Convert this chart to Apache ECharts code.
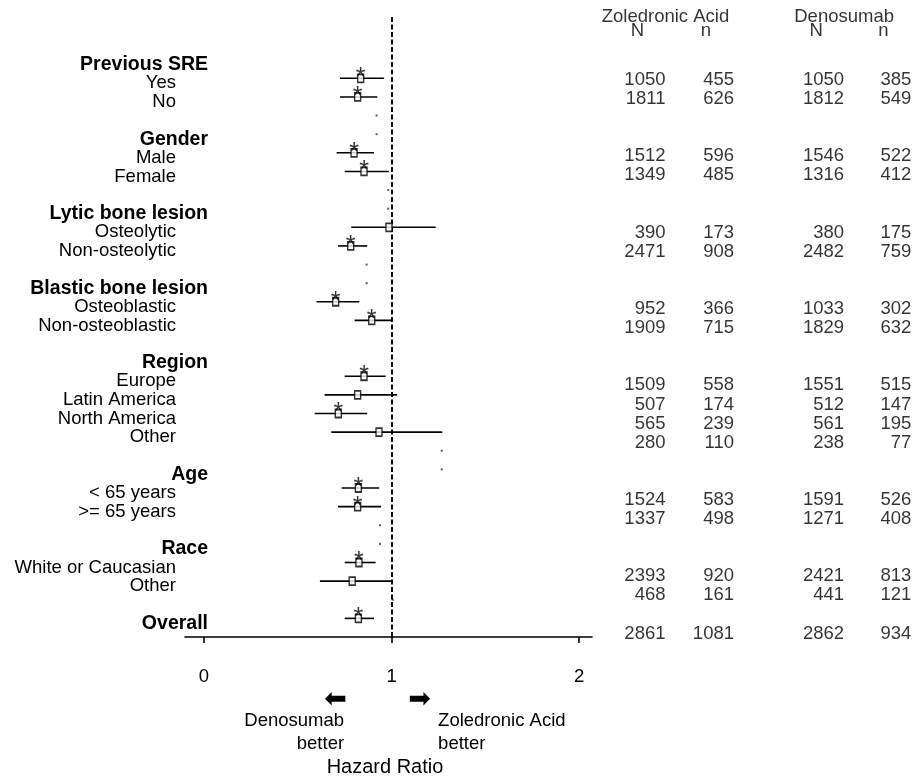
<!DOCTYPE html>
<html><head><meta charset="utf-8">
<script src="https://cdn.jsdelivr.net/npm/echarts@6/dist/echarts.min.js"></script>
<style>html,body{margin:0;padding:0;background:#fff}#c{width:917px;height:782px}</style>
</head><body><div id="c"></div>
<script>
// ---------- data ----------
const rowLabels = ['Previous SRE','Yes','No','',
  'Gender','Male','Female','',
  'Lytic bone lesion','Osteolytic','Non-osteolytic','',
  'Blastic bone lesion','Osteoblastic','Non-osteoblastic','',
  'Region','Europe','Latin America','North America','Other','',
  'Age','< 65 years','>= 65 years','',
  'Race','White or Caucasian','Other','',
  'Overall'];
const headerRows = ['Previous SRE','Gender','Lytic bone lesion','Blastic bone lesion','Region','Age','Race','Overall'];
const hazardRatio = [null,0.835,0.819,null, null,0.800,0.853,null, null,0.986,0.782,null, null,0.702,0.894,null,
  null,0.853,0.819,0.716,0.933,null, null,0.823,0.819,null, null,0.826,0.790,null, 0.823];
const ciLow  = [null,0.725,0.725,null, null,0.707,0.750,null, null,0.785,0.714,null, null,0.600,0.803,null,
  null,0.750,0.643,0.590,0.679,null, null,0.734,0.714,null, null,0.750,0.618,null, 0.750];
const ciHigh = [null,0.959,0.924,null, null,0.906,0.986,null, null,1.235,0.870,null, null,0.828,1.000,null,
  null,0.968,1.030,0.870,1.270,null, null,0.934,0.944,null, null,0.915,1.006,null, 0.906];
const significant = [0,1,1,0, 0,1,1,0, 0,0,1,0, 0,1,1,0, 0,1,0,1,0,0, 0,1,1,0, 0,1,0,0, 1];
const strayDots = [null,null,null,0.92, 0.92,null,null,0.982, 0.982,null,null,0.867, 0.867,null,null,null,
  null,null,null,null,null,1.267, 1.267,null,null,0.938, 0.938,null,null,1.006, null];
const zolN = [null,1050,1811,null, null,1512,1349,null, null,390,2471,null, null,952,1909,null,
  null,1509,507,565,280,null, null,1524,1337,null, null,2393,468,null, 2861];
const zoln = [null,455,626,null, null,596,485,null, null,173,908,null, null,366,715,null,
  null,558,174,239,110,null, null,583,498,null, null,920,161,null, 1081];
const denN = [null,1050,1812,null, null,1546,1316,null, null,380,2482,null, null,1033,1829,null,
  null,1551,512,561,238,null, null,1591,1271,null, null,2421,441,null, 2862];
const denn = [null,385,549,null, null,522,412,null, null,175,759,null, null,302,632,null,
  null,515,147,195,77,null, null,526,408,null, null,813,121,null, 934];
const xTicks = [0, 1, 2];
const referenceHR = 1;
const tableColumns = ['N', 'n'];
const groupNames = ['Zoledronic Acid', 'Denosumab'];
const axisTitle = 'Hazard Ratio';
const leftNote = 'Denosumab\nbetter';
const rightNote = 'Zoledronic Acid\nbetter';

// ---------- build ----------
const FONT = 'Liberation Sans';
const nRows = rowLabels.length;
const rowY = i => nRows - i;
const colHeadY = 32.54, groupHeadY = 33.30;   // header lines of the table, in table row units

const ciData = [], pointData = [], dotData = [], zaData = [], dmData = [];
rowLabels.forEach((lab, i) => {
  if (hazardRatio[i] != null) {
    ciData.push([ciLow[i], ciHigh[i], rowY(i)]);
    pointData.push({ value: [hazardRatio[i], rowY(i)], label: { show: !!significant[i] } });
  }
  if (strayDots[i] != null) dotData.push([strayDots[i], rowY(i)]);
  if (zolN[i] != null) {
    zaData.push([0, rowY(i), zolN[i]]); zaData.push([1, rowY(i), zoln[i]]);
    dmData.push([0, rowY(i), denN[i]]); dmData.push([1, rowY(i), denn[i]]);
  }
});
const headData = k => [
  [0, colHeadY, tableColumns[0]], [1, colHeadY, tableColumns[1]],
  { value: [0, groupHeadY, groupNames[k]], label: { offset: [28, 0] } }
];

const chart = echarts.init(document.getElementById('c'));
const tableTop = 10, tableBottom = 129.4, tableMax = 33.66;
const numLabel = {
  show: true, position: 'inside', align: 'right', verticalAlign: 'middle', offset: [28, 0],
  formatter: p => String(p.data[2]), fontFamily: FONT, fontSize: 18.5, color: '#000'
};
const headLabel = {
  show: true, position: 'inside', align: 'center', verticalAlign: 'middle',
  formatter: p => String(p.value[2]), fontFamily: FONT, fontSize: 18.5, color: '#000'
};
const tableXAxis = gi => ({
  type: 'category', gridIndex: gi, data: tableColumns, show: false
});

chart.setOption({
  backgroundColor: '#fff',
  animation: false,
  grid: [
    { left: 185, width: 407, top: 15, bottom: 140 },
    { left: 603.25, width: 137, top: tableTop, bottom: tableBottom },
    { left: 782.5, width: 140, top: tableTop, bottom: tableBottom }
  ],
  xAxis: [
    {
      type: 'value', gridIndex: 0, min: -0.101, max: 2.068,
      axisLine: { lineStyle: { color: '#000', width: 1.6 } },
      axisTick: { customValues: xTicks, length: 6, lineStyle: { color: '#000', width: 1.6 } },
      axisLabel: { customValues: xTicks, margin: 30, fontFamily: FONT, fontSize: 18.5, color: '#000' },
      splitLine: { show: false },
      name: axisTitle, nameLocation: 'middle', nameGap: 120,
      nameTextStyle: { fontFamily: FONT, fontSize: 20, color: '#000', padding: [0, 7, 0, 0] }
    },
    tableXAxis(1),
    tableXAxis(2)
  ],
  yAxis: [
    {
      type: 'value', gridIndex: 0, min: 0, max: 33.4, interval: 1,
      axisLine: { show: false }, axisTick: { show: false }, splitLine: { show: false },
      axisLabel: {
        margin: -23, align: 'right', showMaxLabel: false,
        formatter: v => {
          const i = nRows - v;
          if (!Number.isInteger(i) || i < 0 || i >= nRows || !rowLabels[i]) return '';
          const t = rowLabels[i];
          return headerRows.includes(t) ? '{h|' + t + '}' : '{s|' + t + '}';
        },
        rich: {
          h: { fontFamily: FONT, fontWeight: 'bold', fontSize: 19.5, color: '#000', padding: [10, 0, 0, 0] },
          s: { fontFamily: FONT, fontSize: 18.5, color: '#000', padding: [10, 32, 0, 0] }
        }
      }
    },
    { type: 'value', gridIndex: 1, min: 0, max: tableMax, show: false },
    { type: 'value', gridIndex: 2, min: 0, max: tableMax, show: false }
  ],
  series: [
    {
      type: 'custom', xAxisIndex: 0, yAxisIndex: 0, data: ciData, z: 3,
      encode: { x: [0, 1], y: 2 },
      renderItem: (params, api) => {
        const a = api.coord([api.value(0), api.value(2)]);
        const b = api.coord([api.value(1), api.value(2)]);
        return { type: 'line', shape: { x1: a[0], y1: a[1], x2: b[0], y2: b[1] },
          style: { stroke: '#000', lineWidth: 1.6 } };
      },
      markLine: {
        silent: true, symbol: 'none', label: { show: false },
        lineStyle: { color: '#000', type: [5, 2.5], width: 1.9 },
        data: [{ xAxis: referenceHR }]
      }
    },
    {
      type: 'scatter', xAxisIndex: 0, yAxisIndex: 0, data: pointData, z: 5,
      symbol: 'rect', symbolSize: [6, 8],
      itemStyle: { color: '#fff', borderColor: '#000', borderWidth: 1.6 },
      label: { position: 'inside', formatter: '*', offset: [0, 0], fontFamily: FONT, fontSize: 25, color: '#000' }
    },
    {
      type: 'scatter', xAxisIndex: 0, yAxisIndex: 0, data: dotData, z: 4,
      symbol: 'rect', symbolSize: 2, itemStyle: { color: '#333' }
    },
    {
      type: 'scatter', xAxisIndex: 1, yAxisIndex: 1, data: zaData,
      symbolSize: 1, itemStyle: { color: 'rgba(0,0,0,0)' }, label: numLabel
    },
    {
      type: 'scatter', xAxisIndex: 2, yAxisIndex: 2, data: dmData,
      symbolSize: 1, itemStyle: { color: 'rgba(0,0,0,0)' }, label: numLabel
    },
    {
      type: 'scatter', xAxisIndex: 1, yAxisIndex: 1, data: headData(0),
      symbolSize: 1, itemStyle: { color: 'rgba(0,0,0,0)' }, label: headLabel
    },
    {
      type: 'scatter', xAxisIndex: 2, yAxisIndex: 2, data: headData(1),
      symbolSize: 1, itemStyle: { color: 'rgba(0,0,0,0)' }, label: headLabel
    }
  ]
});

// annotations below the axis, anchored to the reference line
const ref = chart.convertToPixel({ gridIndex: 0 }, [referenceHR, 0]);
const txt = (x, y, text, align, size, family) => ({
  type: 'text', x: x, y: y, silent: true,
  style: { text: text, fill: '#000', fontFamily: family || FONT, fontSize: size,
    align: align, textAlign: align, verticalAlign: 'middle', textVerticalAlign: 'middle', lineHeight: 23 }
});
chart.setOption({
  graphic: [
    txt(ref[0] - 56, ref[1] + 63, '\u2B05', 'center', 27, 'DejaVu Sans'),
    txt(ref[0] + 28, ref[1] + 63, '\u27A1', 'center', 27, 'DejaVu Sans'),
    txt(ref[0] - 47.5, ref[1] + 95, leftNote, 'right', 18.5),
    txt(ref[0] + 46.5, ref[1] + 95, rightNote, 'left', 18.5)
  ]
});
</script></body></html>
